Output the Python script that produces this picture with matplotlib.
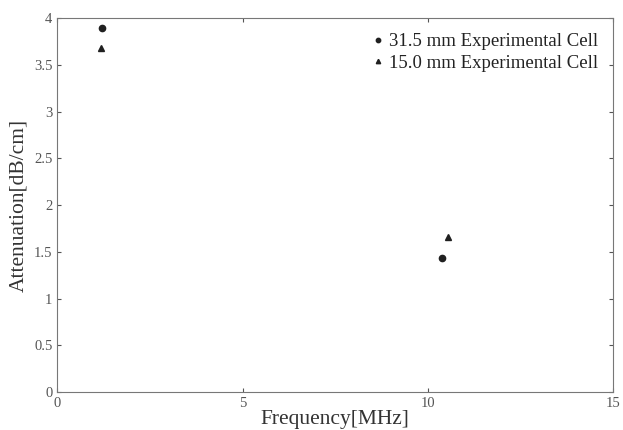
import numpy as np
import matplotlib
matplotlib.use('Agg')
import matplotlib.pyplot as plt

plt.rcParams['font.family'] = ['Liberation Serif', 'DejaVu Serif']

# Measured points
freq_31 = [1.2, 10.38]
att_31 = [3.89, 1.43]
freq_15 = [1.18, 10.54]
att_15 = [3.68, 1.66]

labels = ['31.5 mm Experimental Cell', '15.0 mm Experimental Cell']
xticks = [0, 5, 10, 15]
yticks = [0, 0.5, 1, 1.5, 2, 2.5, 3, 3.5, 4]

fig = plt.figure(figsize=(6.23, 4.3), dpi=100)
ax = fig.add_axes([0.092, 0.088, 0.892, 0.87])

ax.plot(freq_31, att_31, 'o', color='#202020', markersize=4.5, label=labels[0])
ax.plot(freq_15, att_15, '^', color='#202020', markersize=4.5, label=labels[1])

ax.set_xlim(0, 15)
ax.set_ylim(0, 4)
ax.set_xticks(xticks)
ax.set_yticks(yticks)
ax.set_xticklabels([str(t) for t in xticks])
ax.set_yticklabels(['0', '0.5', '1', '1.5', '2', '2.5', '3', '3.5', '4'])

ax.tick_params(direction='in', top=True, right=True, length=3,
               labelsize=10.5, colors='#555555', labelcolor='#555555')
for s in ax.spines.values():
    s.set_color('#777777')

ax.set_xlabel('Frequency[MHz]', fontsize=15.5, color='#333333', labelpad=0)
ax.set_ylabel('Attenuation[dB/cm]', fontsize=15.5, color='#333333', labelpad=4)

ax.legend(loc='upper right', frameon=False, fontsize=13.5, handletextpad=0.1,
          markerscale=0.7, labelspacing=0.25, borderaxespad=0.4,
          handlelength=1.0, labelcolor='#222222')

fig.savefig('out.png', dpi=100)
